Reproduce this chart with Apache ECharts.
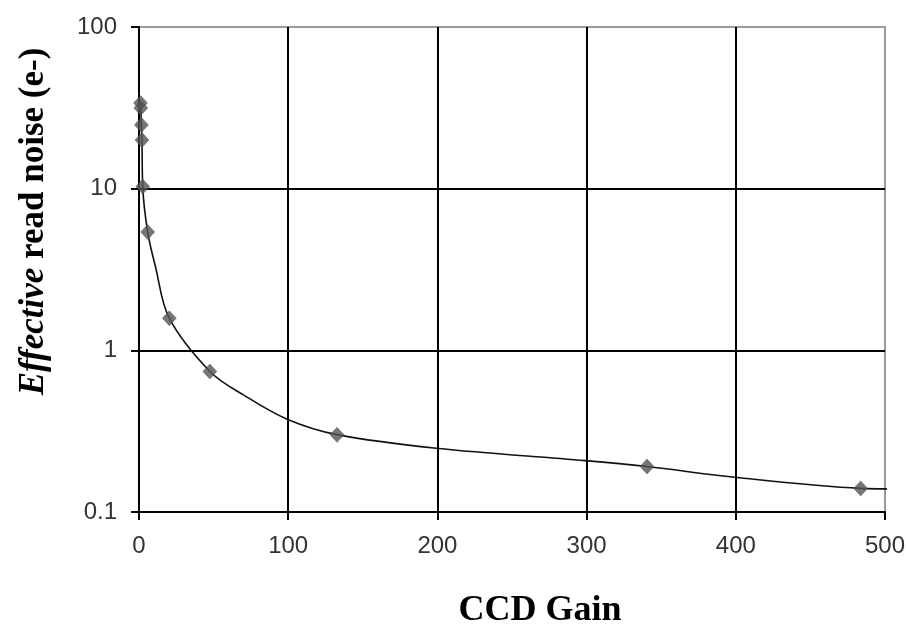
<!DOCTYPE html>
<html>
<head>
<meta charset="utf-8">
<script src="https://cdn.jsdelivr.net/npm/echarts@6/dist/echarts.min.js"></script>
<style>
  html, body { margin: 0; padding: 0; background: #ffffff; }
  #chart { width: 906px; height: 627px; }
</style>
</head>
<body>
<div id="chart"></div>
<script>
// Measured points: CCD gain vs. effective read noise (electrons)
const gainMeasured = [1.0, 1.2, 1.6, 2.0, 2.5, 5.8, 20.3, 47.5, 132.7, 340.5, 483.7];
const noiseMeasured = [33.9, 31.6, 24.8, 20.0, 10.3, 5.4, 1.58, 0.74, 0.30, 0.191, 0.140];

// Smooth trend curve through the measurements
const gainCurve = [1.0, 1.2, 1.6, 2.0, 2.5, 5.8, 11, 20.3, 47.5, 70, 99.3, 132.7, 199.3, 299, 340.5, 399.4, 483.7, 503];
const noiseCurve = [33.9, 31.6, 24.8, 20.0, 10.3, 5.4, 3.3, 1.58, 0.74, 0.53, 0.375, 0.301, 0.248, 0.208, 0.191, 0.164, 0.140, 0.139];

// Axis ticks
const xTicks = [0, 100, 200, 300, 400, 500];
const yTicks = [0.1, 1, 10, 100];

const pairs = (xs, ys) => xs.map((x, i) => [x, ys[i]]);

const chart = echarts.init(document.getElementById('chart'), null, { renderer: 'canvas' });

chart.setOption({
  backgroundColor: '#ffffff',
  animation: false,
  grid: {
    left: 139, right: 21, top: 27, bottom: 115,
    containLabel: false,
    outerBoundsMode: 'none',
    show: true,
    borderColor: '#9a9a9a',
    borderWidth: 2,
    backgroundColor: 'transparent'
  },
  xAxis: {
    type: 'value',
    min: xTicks[0],
    max: xTicks[xTicks.length - 1],
    interval: 100,
    name: 'CCD Gain',
    nameLocation: 'middle',
    nameGap: 81,
    nameTextStyle: {
      fontFamily: 'Liberation Serif',
      fontWeight: 'bold',
      fontSize: 36,
      color: '#000',
      padding: [0, 0, 0, 56]
    },
    axisLine: { show: true, onZero: false, lineStyle: { color: '#000', width: 2 } },
    axisTick: { show: true, inside: false, length: 8, lineStyle: { color: '#000', width: 2 } },
    axisLabel: {
      margin: 22,
      fontFamily: 'Liberation Sans',
      fontSize: 24,
      color: '#333',
      formatter: v => xTicks.includes(v) ? String(v) : ''
    },
    splitLine: {
      show: true,
      showMinLine: false,
      showMaxLine: false,
      lineStyle: { color: '#000', width: 2 }
    }
  },
  yAxis: {
    type: 'log',
    logBase: 10,
    min: yTicks[0],
    max: yTicks[yTicks.length - 1],
    name: '{i|Effective} {b|read noise (e-)}',
    nameLocation: 'middle',
    nameGap: 88,
    nameTextStyle: {
      fontFamily: 'Liberation Serif',
      fontWeight: 'bold',
      fontSize: 35,
      color: '#000',
      padding: [0, 0, 0, 96],
      rich: {
        i: { fontFamily: 'Liberation Serif', fontWeight: 'bold', fontStyle: 'italic', fontSize: 35, color: '#000' },
        b: { fontFamily: 'Liberation Serif', fontWeight: 'bold', fontSize: 35, color: '#000' }
      }
    },
    axisLine: { show: true, onZero: false, lineStyle: { color: '#000', width: 2 } },
    axisTick: { show: true, inside: false, length: 8, lineStyle: { color: '#000', width: 2 } },
    axisLabel: {
      margin: 22,
      fontFamily: 'Liberation Sans',
      fontSize: 24,
      color: '#333',
      formatter: v => {
        const t = yTicks.find(k => Math.abs(k - v) / k < 1e-6);
        return t === undefined ? '' : String(t);
      }
    },
    splitLine: {
      show: true,
      showMinLine: false,
      showMaxLine: false,
      lineStyle: { color: '#000', width: 2 }
    },
    minorTick: { show: false },
    minorSplitLine: { show: false }
  },
  series: [
    {
      name: 'trend',
      type: 'line',
      data: pairs(gainCurve, noiseCurve),
      smooth: 0.35,
      showSymbol: false,
      symbol: 'none',
      clip: false,
      lineStyle: { color: '#111', width: 1.6 },
      z: 3
    },
    {
      name: 'measured',
      type: 'scatter',
      data: pairs(gainMeasured, noiseMeasured),
      symbol: 'diamond',
      symbolSize: [14, 15],
      itemStyle: { color: '#545454', borderColor: '#444', borderWidth: 0.5 },
      z: 4
    }
  ]
});
</script>
</body>
</html>
